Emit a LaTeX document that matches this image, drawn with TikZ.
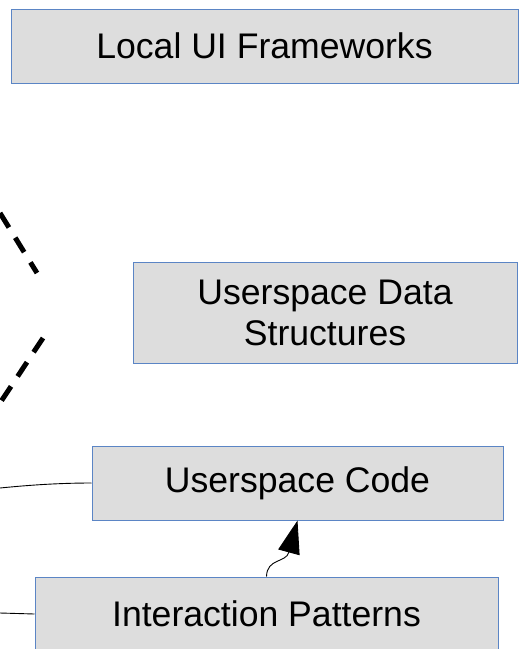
\documentclass[tikz,border=0pt]{standalone}
\usepackage{fontspec}
\setmainfont{Liberation Sans}
\usetikzlibrary{arrows.meta,shapes}
\definecolor{boxfill}{RGB}{221,221,221}
\definecolor{boxline}{RGB}{91,133,197}
\tikzstyle{block}=[rectangle,draw=boxline,fill=boxfill,line width=1pt,inner sep=0pt,align=center,font=\fontsize{35.6}{41}\selectfont]
\tikzstyle{edge} = [draw,line width=0.9pt]
\tikzstyle{bigarrow} = [draw,line width=0.9pt,-{Triangle[length=33pt,width=22pt]}]
\tikzstyle{dashline} = [draw,line width=5pt,dash pattern=on 17pt off 12pt]

\begin{document}
\begin{tikzpicture}[x=1pt,y=-1pt]

    \useasboundingbox (0,0) rectangle (520,649);
    \clip (0,0) rectangle (520,649);

     \foreach \x/\y/\w/\h/\name/\txt in {264.5/46/507/74/local/{Local UI Frameworks},
                                         325/312.5/384/101/data/{Userspace Data\\Structures},
                                         297.5/483/411/74/code/{Userspace Code},
                                         266.5/614/463/74/inter/{Interaction Patterns}}
        \node[block, minimum width=\w pt, minimum height=\h pt] (\name) at (\x,\y) {\txt};

    % loose ends coming in from the left
    \coordinate (codein) at (0,488);
    \coordinate (interin) at (0,613);
    \coordinate (dashAstart) at (0,213);
    \coordinate (dashAend) at (37,273);
    \coordinate (dashBstart) at (43,338);
    \coordinate (dashBend) at (0,403);

        \path[edge] (codein) .. controls (30,485) and (60,483) .. (code.west);
        \path[edge] (interin) -- (inter.west);

        \path[bigarrow] (inter.north) .. controls (267,558) and (286,563) .. (code.south);

        \path[dashline] (dashAstart) -- (dashAend);
        \path[dashline] (dashBstart) -- (dashBend);

   \end{tikzpicture}
\end{document}
